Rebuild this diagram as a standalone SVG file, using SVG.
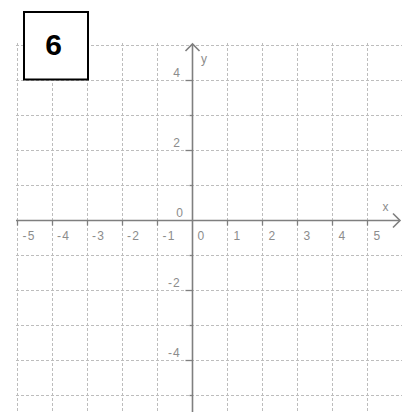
<svg xmlns="http://www.w3.org/2000/svg" width="406" height="412" viewBox="0 0 406 412">
<style>
.grid line{stroke:#bdbdbd;stroke-width:1;stroke-dasharray:3 2}
.ax{stroke:#7f7f7f;stroke-width:1.6;fill:none}
.tk{stroke:#7f7f7f;stroke-width:1.3}
.lb{font-family:"Liberation Sans",Arial,sans-serif;font-size:12px;fill:#8c8c8c;letter-spacing:1.2px}
.ly{text-anchor:end}
</style>
<rect width="406" height="412" fill="#ffffff"/>
<g id="grid" class="grid">
<line x1="17.5" y1="43" x2="17.5" y2="412"/>
<line x1="52.5" y1="43" x2="52.5" y2="412"/>
<line x1="87.5" y1="43" x2="87.5" y2="412"/>
<line x1="122.5" y1="43" x2="122.5" y2="412"/>
<line x1="157.5" y1="43" x2="157.5" y2="412"/>
<line x1="227.5" y1="43" x2="227.5" y2="412"/>
<line x1="262.5" y1="43" x2="262.5" y2="412"/>
<line x1="297.5" y1="43" x2="297.5" y2="412"/>
<line x1="332.5" y1="43" x2="332.5" y2="412"/>
<line x1="367.5" y1="43" x2="367.5" y2="412"/>
<line x1="16" y1="45.5" x2="402" y2="45.5"/>
<line x1="16" y1="80.5" x2="402" y2="80.5"/>
<line x1="16" y1="115.5" x2="402" y2="115.5"/>
<line x1="16" y1="150.5" x2="402" y2="150.5"/>
<line x1="16" y1="185.5" x2="402" y2="185.5"/>
<line x1="16" y1="255.5" x2="402" y2="255.5"/>
<line x1="16" y1="290.5" x2="402" y2="290.5"/>
<line x1="16" y1="325.5" x2="402" y2="325.5"/>
<line x1="16" y1="360.5" x2="402" y2="360.5"/>
<line x1="16" y1="395.5" x2="402" y2="395.5"/>
</g>
<g id="connectors">
<line class="ax" x1="16" y1="220.5" x2="400" y2="220.5"/>
<polyline class="ax" points="393,213.5 400,220.5 393,227.5"/>
<line class="ax" x1="192.5" y1="44" x2="192.5" y2="412"/>
<polyline class="ax" points="185.5,51 192.5,44 199.5,51"/>
<g id="xticks">
<line class="tk" x1="17.5" y1="220.5" x2="17.5" y2="225.5"/>
<line class="tk" x1="52.5" y1="220.5" x2="52.5" y2="225.5"/>
<line class="tk" x1="87.5" y1="220.5" x2="87.5" y2="225.5"/>
<line class="tk" x1="122.5" y1="220.5" x2="122.5" y2="225.5"/>
<line class="tk" x1="157.5" y1="220.5" x2="157.5" y2="225.5"/>
<line class="tk" x1="227.5" y1="220.5" x2="227.5" y2="225.5"/>
<line class="tk" x1="262.5" y1="220.5" x2="262.5" y2="225.5"/>
<line class="tk" x1="297.5" y1="220.5" x2="297.5" y2="225.5"/>
<line class="tk" x1="332.5" y1="220.5" x2="332.5" y2="225.5"/>
<line class="tk" x1="367.5" y1="220.5" x2="367.5" y2="225.5"/>
</g>
<g id="yticks">
<line class="tk" x1="185.5" y1="80.5" x2="192.5" y2="80.5"/>
<line class="tk" x1="189.5" y1="115.5" x2="192.5" y2="115.5"/>
<line class="tk" x1="185.5" y1="150.5" x2="192.5" y2="150.5"/>
<line class="tk" x1="189.5" y1="185.5" x2="192.5" y2="185.5"/>
<line class="tk" x1="189.5" y1="255.5" x2="192.5" y2="255.5"/>
<line class="tk" x1="185.5" y1="290.5" x2="192.5" y2="290.5"/>
<line class="tk" x1="189.5" y1="325.5" x2="192.5" y2="325.5"/>
<line class="tk" x1="185.5" y1="360.5" x2="192.5" y2="360.5"/>
<line class="tk" x1="189.5" y1="395.5" x2="192.5" y2="395.5"/>
</g>
</g>
<g id="xlabels" class="lb">
<text x="22.5" y="240">-5</text>
<text x="57" y="240">-4</text>
<text x="92" y="240">-3</text>
<text x="127" y="240">-2</text>
<text x="162.5" y="240">-1</text>
<text x="197.5" y="240">0</text>
<text x="233.5" y="240">1</text>
<text x="268.5" y="240">2</text>
<text x="303.5" y="240">3</text>
<text x="338.5" y="240">4</text>
<text x="373.5" y="240">5</text>
<text x="382.5" y="211">x</text>
</g>
<g id="ylabels" class="lb">
<text class="ly" x="181" y="77">4</text>
<text class="ly" x="181" y="147">2</text>
<text class="ly" x="184" y="217">0</text>
<text class="ly" x="181" y="287">-2</text>
<text class="ly" x="181" y="357">-4</text>
<text x="201" y="63">y</text>
</g>
<g id="label-box">
<rect x="24" y="12" width="64" height="67.5" fill="#ffffff" stroke="#000000" stroke-width="2"/>
<text x="53.5" y="54.7" text-anchor="middle" font-family="'Liberation Sans',Arial,sans-serif" font-weight="bold" font-size="30" fill="#000000">6</text>
</g>
</svg>
